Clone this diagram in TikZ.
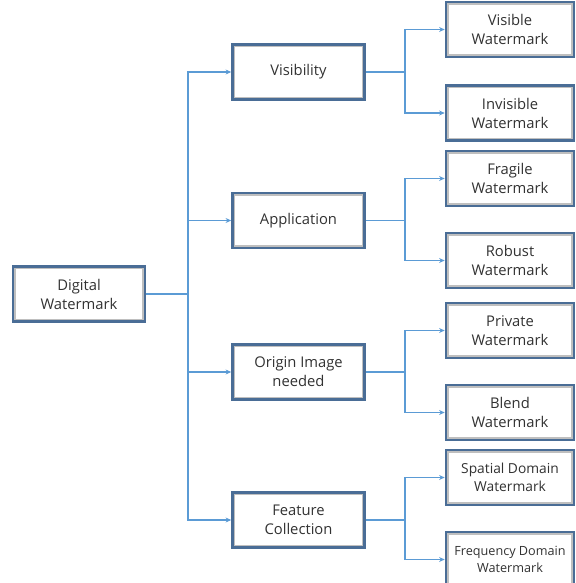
\documentclass[tikz,border=0pt]{standalone}
\usepackage{fontspec}
\setmainfont{Open Sans}
\usepackage{tikz}
\usetikzlibrary{arrows.meta}

\definecolor{boxblue}{RGB}{74,109,150}
\definecolor{linkblue}{RGB}{91,155,213}
\definecolor{txtgray}{RGB}{50,50,50}

\tikzset{
  wbox/.style={draw=boxblue, line width=1.8pt, fill=white, inner sep=0pt,
    minimum width=3.3cm, minimum height=1.375cm, align=center,
    font=\fontsize{10.5}{13.5}\selectfont, text=txtgray,
    path picture={\draw[black!25, line width=4pt]
      (path picture bounding box.south west) rectangle (path picture bounding box.north east);}},
  leafbox/.style={wbox, minimum width=3.2cm},
  small/.style={font=\fontsize{9.8}{12.5}\selectfont},
  smaller/.style={font=\fontsize{9}{12.5}\selectfont},
  link/.style={draw=linkblue, line width=0.8pt},
  arr/.style={link, -{Stealth[length=4pt,width=3.5pt]}}
}

\begin{document}
\begin{tikzpicture}[x=0.025cm, y=-0.025cm]
	%\draw[help lines] (0,0) grid[step=50] (575,583);
	\useasboundingbox (0,0) rectangle (575,583);
	\node[wbox] (root) at (79,294) {Digital\\Watermark};
	\node[wbox] (vis) at (298.5,72) {Visibility};
	\node[wbox] (app) at (298.5,220.5) {Application};
	\node[wbox] (orig) at (298.5,372) {Origin Image\\needed};
	\node[wbox] (feat) at (298.5,520) {Feature\\Collection};
	\node[leafbox] (visw) at (510,29.5) {Visible\\Watermark};
	\node[leafbox] (invw) at (510,113) {Invisible\\Watermark};
	\node[leafbox] (fragw) at (510,178.5) {Fragile\\Watermark};
	\node[leafbox] (robw) at (510,260.5) {Robust\\Watermark};
	\node[leafbox] (privw) at (510,330.5) {Private\\Watermark};
	\node[leafbox] (blendw) at (510,412.5) {Blend\\Watermark};
	\node[leafbox, small] (spatw) at (510,477.5) {Spatial Domain\\Watermark};
	\node[leafbox, smaller] (freqw) at (510,559.5) {Frequency Domain\\Watermark};
	\coordinate (j0) at (188,294);
	\coordinate (j1) at (405,72);
	\coordinate (j2) at (405,220.5);
	\coordinate (j3) at (405,372);
	\coordinate (j4) at (405,520);
	\draw[link] (root.east) -- (j0);
	\draw[arr] (j0) |- (vis.west);
	\draw[arr] (j0) |- (app.west);
	\draw[arr] (j0) |- (orig.west);
	\draw[arr] (j0) |- (feat.west);
	\draw[link] (vis.east) -- (j1);
	\draw[arr] (j1) |- (visw.west);
	\draw[arr] (j1) |- (invw.west);
	\draw[link] (app.east) -- (j2);
	\draw[arr] (j2) |- (fragw.west);
	\draw[arr] (j2) |- (robw.west);
	\draw[link] (orig.east) -- (j3);
	\draw[arr] (j3) |- (privw.west);
	\draw[arr] (j3) |- (blendw.west);
	\draw[link] (feat.east) -- (j4);
	\draw[arr] (j4) |- (spatw.west);
	\draw[arr] (j4) |- (freqw.west);
\end{tikzpicture}
\end{document}
